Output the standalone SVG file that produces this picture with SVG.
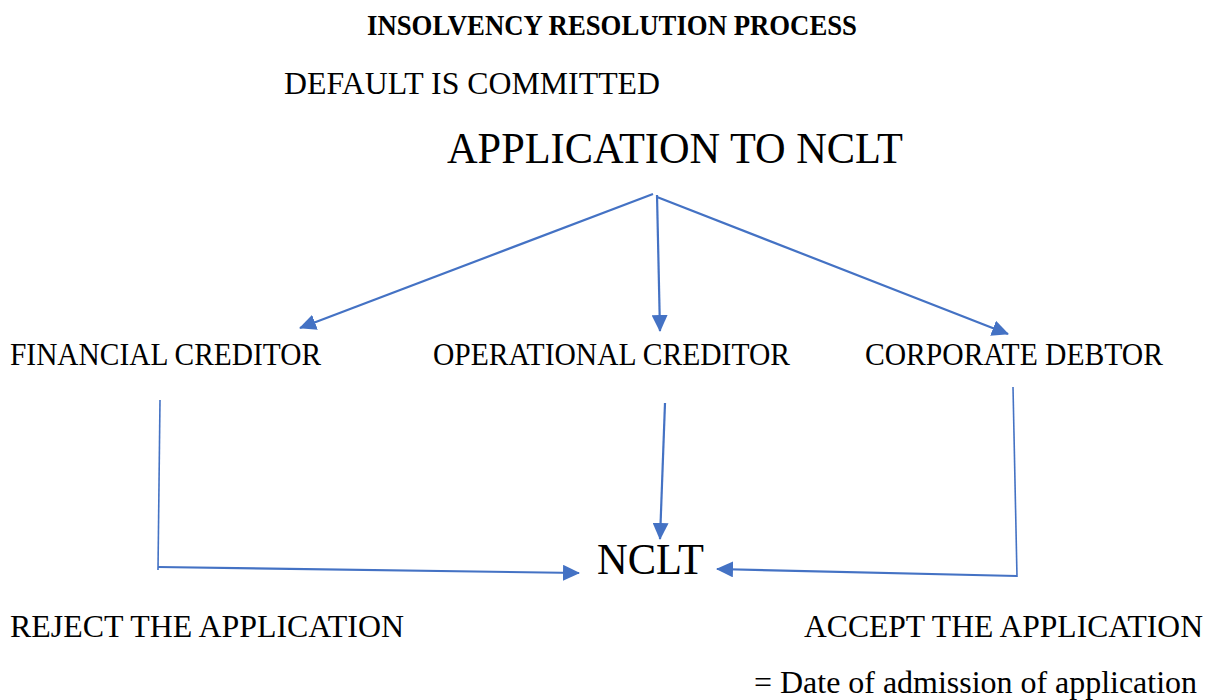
<svg xmlns="http://www.w3.org/2000/svg" width="1213" height="700" viewBox="0 0 1213 700">
<style>
text{font-family:"Liberation Serif","Times New Roman",serif;fill:#000}
.t{font-weight:bold;font-size:28.5px}
.m{font-size:32px}
.b{font-size:44px}
.n{font-size:32.5px}
.c{fill:none;stroke:#4472C4;stroke-width:2.2}
.e{fill:none;stroke:#4472C4;stroke-width:1.6}
</style>
<defs>
<marker id="ah" markerUnits="userSpaceOnUse" markerWidth="18" markerHeight="16" refX="16" refY="8" orient="auto">
<path d="M0,0 L17,8 L0,16 Z" fill="#4472C4"/>
</marker>
</defs>
<rect width="1213" height="700" fill="#fff"/>
<g id="title"><text class="t" x="367" y="35" textLength="490" lengthAdjust="spacingAndGlyphs">INSOLVENCY RESOLUTION PROCESS</text></g>
<g id="default"><text class="m" x="284" y="94" textLength="376" lengthAdjust="spacingAndGlyphs">DEFAULT IS COMMITTED</text></g>
<g id="application"><text class="b" x="447" y="163" textLength="456" lengthAdjust="spacingAndGlyphs">APPLICATION TO NCLT</text></g>
<g id="financial"><text class="n" x="10" y="365" textLength="311" lengthAdjust="spacingAndGlyphs">FINANCIAL CREDITOR</text></g>
<g id="operational"><text class="n" x="433" y="365" textLength="357" lengthAdjust="spacingAndGlyphs">OPERATIONAL CREDITOR</text></g>
<g id="corporate"><text class="n" x="865" y="365" textLength="298" lengthAdjust="spacingAndGlyphs">CORPORATE DEBTOR</text></g>
<g id="nclt"><text class="b" x="597" y="574" textLength="107" lengthAdjust="spacingAndGlyphs">NCLT</text></g>
<g id="reject"><text class="n" x="10" y="637" textLength="394" lengthAdjust="spacingAndGlyphs">REJECT THE APPLICATION</text></g>
<g id="accept"><text class="n" x="804" y="637" textLength="399" lengthAdjust="spacingAndGlyphs">ACCEPT THE APPLICATION</text></g>
<g id="date"><text class="n" x="754" y="693" textLength="443" lengthAdjust="spacingAndGlyphs">= Date of admission of application</text></g>
<g id="connectors">
<line class="c" x1="653" y1="194" x2="300" y2="328" marker-end="url(#ah)"/>
<line class="c" x1="657" y1="195" x2="660" y2="331" marker-end="url(#ah)"/>
<line class="c" x1="657" y1="197" x2="1008" y2="334" marker-end="url(#ah)"/>
<polyline class="e" points="160,400 158,570"/>
<line class="c" x1="158" y1="567" x2="579" y2="573" marker-end="url(#ah)"/>
<line class="c" x1="665" y1="403" x2="660" y2="539" marker-end="url(#ah)"/>
<polyline class="e" points="1013,387 1017,577"/>
<line class="c" x1="1017" y1="576" x2="717" y2="569" marker-end="url(#ah)"/>
</g>
</svg>
